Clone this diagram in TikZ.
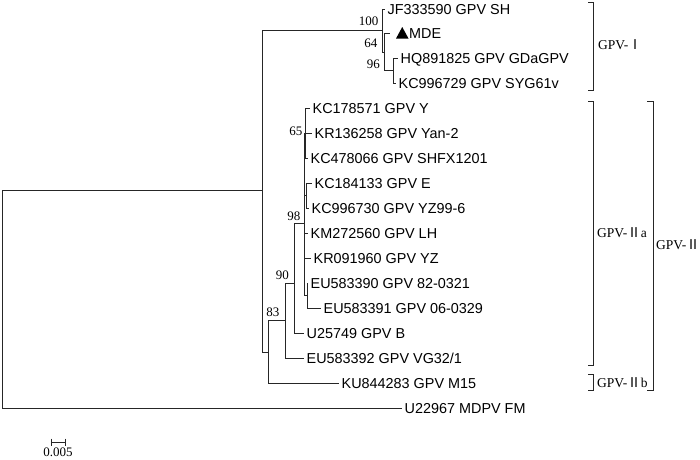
\documentclass[tikz,border=0pt]{standalone}
\usepackage{fontspec}
\setmainfont{Liberation Serif}
\newfontfamily\arial{Liberation Sans}
\newfontfamily\cjk{Noto Sans CJK SC}
\begin{document}
\begin{tikzpicture}[x=1pt,y=-1pt,
  branch/.style={draw=black!85, line width=0.95pt, line join=miter},
  leaf/.style={font=\arial\fontsize{14.4}{14.4}\selectfont, anchor=west, inner xsep=2.5pt, inner ysep=0pt, text height=10.3pt, text depth=0pt},
  boot/.style={font=\fontsize{13}{13}\selectfont, anchor=east, inner sep=0pt, text height=9pt, text depth=0pt},
  clade/.style={font=\fontsize{13.5}{13.5}\selectfont, anchor=west, inner sep=0pt, text height=9pt, text depth=0pt},
  bracket/.style={draw=black!85, line width=0.95pt}]
\useasboundingbox (0,0) rectangle (700,459);

% internal nodes
\coordinate (root) at (2,299);
\coordinate (nA) at (262.5,190);
\coordinate (n100) at (382,30.5);
\coordinate (n64) at (384.5,52);
\coordinate (n96) at (393,70.5);
\coordinate (n83) at (268,352);
\coordinate (n90) at (285,320);
\coordinate (n98) at (294,283);
\coordinate (nY) at (304,223);
\coordinate (n65) at (305.5,133);
\coordinate (nE) at (306,195.5);
\coordinate (nEU) at (307,295.5);

% leaves
\node[leaf] (jf) at (385,9) {JF333590 GPV SH};
\node[leaf, inner xsep=19pt] (mde) at (390,33) {MDE};
\node[leaf] (hq) at (398,58) {HQ891825 GPV GDaGPV};
\node[leaf] (kc729) at (396,83) {KC996729 GPV SYG61v};
\node[leaf] (kc571) at (310,108) {KC178571 GPV Y};
\node[leaf] (kr258) at (312,133) {KR136258 GPV Yan-2};
\node[leaf] (kc066) at (308,158) {KC478066 GPV SHFX1201};
\node[leaf] (kc133) at (312,183) {KC184133 GPV E};
\node[leaf] (kc730) at (309,208) {KC996730 GPV YZ99-6};
\node[leaf] (km560) at (308,233) {KM272560 GPV LH};
\node[leaf] (kr960) at (311,258) {KR091960 GPV YZ};
\node[leaf] (eu390) at (308,283) {EU583390 GPV 82-0321};
\node[leaf] (eu391) at (321,308) {EU583391 GPV 06-0329};
\node[leaf] (u749) at (304,333) {U25749 GPV B};
\node[leaf] (eu392) at (304,358) {EU583392 GPV VG32/1};
\node[leaf] (ku283) at (339,383) {KU844283 GPV M15};
\node[leaf] (u967) at (402,408) {U22967 MDPV FM};

\fill[black] ([xshift=6pt]mde.west) ++(0,5.5) -- ++(12.5,0) -- ++(-6.25,-11.5) -- cycle;

% branches
\draw[branch] (root) |- (nA);
\draw[branch] (root) |- (u967.west);
\draw[branch] (nA) |- (n100);
\draw[branch] (nA) |- (n83);
\draw[branch] (n100) |- (jf.west);
\draw[branch] (n100) |- (n64);
\draw[branch] (n64) |- (mde.west);
\draw[branch] (n64) |- (n96);
\draw[branch] (n96) |- (hq.west);
\draw[branch] (n96) |- (kc729.west);
\draw[branch] (n83) |- (n90);
\draw[branch] (n83) |- (ku283.west);
\draw[branch] (n90) |- (n98);
\draw[branch] (n90) |- (eu392.west);
\draw[branch] (n98) |- (nY);
\draw[branch] (n98) |- (u749.west);
\draw[branch] (nY) |- (n65);
\draw[branch] (nY) |- (nE);
\draw[branch] (nY) |- (km560.west);
\draw[branch] (nY) |- (kr960.west);
\draw[branch] (nY) |- (nEU);
\draw[branch] (n65) |- (kc571.west);
\draw[branch] (n65) |- (kr258.west);
\draw[branch] (n65) |- (kc066.west);
\draw[branch] (nE) |- (kc133.west);
\draw[branch] (nE) |- (kc730.west);
\draw[branch] (nEU) |- (eu390.west);
\draw[branch] (nEU) |- (eu391.west);

% bootstrap values
\node[boot] (b100) at (378.5,21) {100};
\node[boot] (b64) at (377.5,43) {64};
\node[boot] (b96) at (380,64) {96};
\node[boot] (b65) at (302.5,131) {65};
\node[boot] (b98) at (300.5,216) {98};
\node[boot] (b90) at (289,275) {90};
\node[boot] (b83) at (279.5,312) {83};

% clade brackets
\draw[bracket] (588,2) -- (593,2) -- (593,90) -- (588,90);
\draw[bracket] (588,101) -- (593,101) -- (593,365) -- (588,365);
\draw[bracket] (588,374) -- (593,374) -- (593,390) -- (588,390);
\draw[bracket] (647,101) -- (653,101) -- (653,390) -- (647,390);
\node[clade] (gI) at (598,45) {GPV-{\cjk Ⅰ}};
\node[clade] (gIIa) at (597,233) {GPV-{\cjk Ⅱ}a};
\node[clade] (gIIb) at (597,383) {GPV-{\cjk Ⅱ}b};
\node[clade] (gII) at (656,245) {GPV-{\cjk Ⅱ}\kern-3pt};

% scale bar
\coordinate (sbL) at (51,442);
\coordinate (sbR) at (65,442);
\draw[branch] (sbL) -- (sbR);
\draw[branch] ([yshift=3.5pt]sbL) -- ([yshift=-3.5pt]sbL);
\draw[branch] ([yshift=3.5pt]sbR) -- ([yshift=-3.5pt]sbR);
\node[boot, anchor=center] (sbt) at (58,452) {0.005};
\end{tikzpicture}
\end{document}
